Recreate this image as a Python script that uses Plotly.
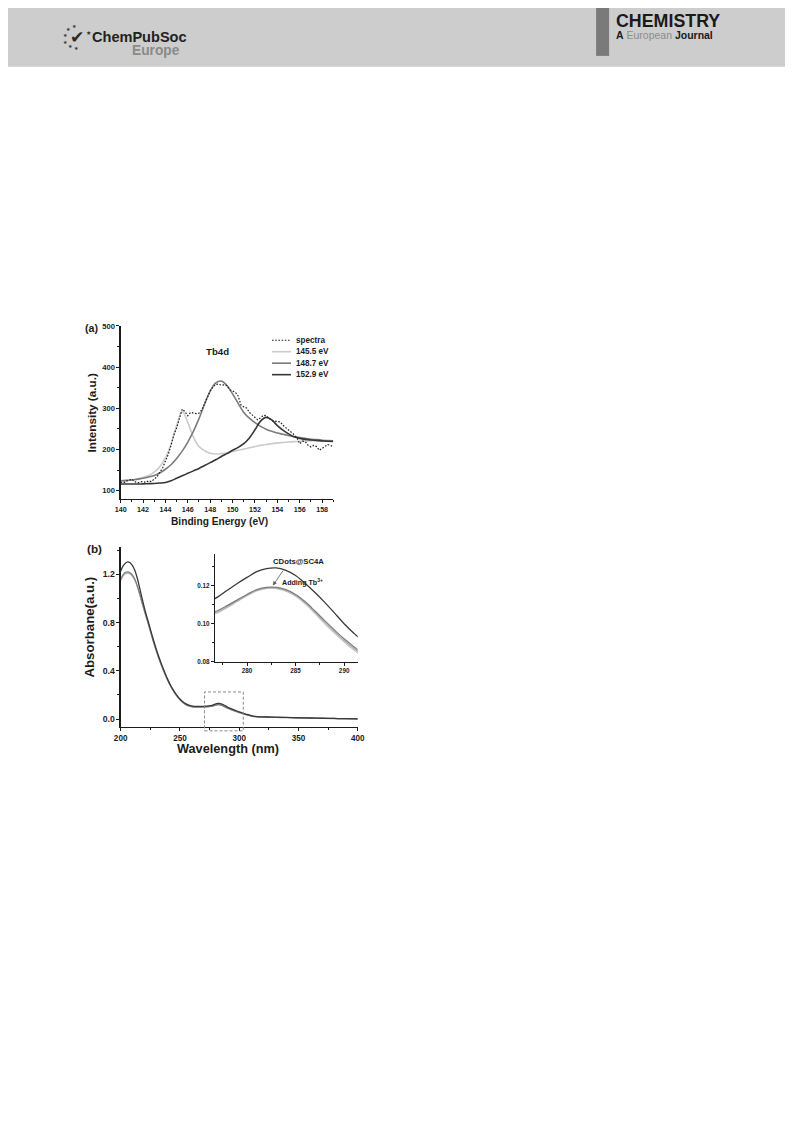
import math
import plotly.graph_objects as go

# ---------------- (a) Tb4d XPS data ----------------
be = [140, 140.5, 141, 141.5, 142, 142.5, 143, 143.5, 144, 144.5,
      145, 145.5, 146, 146.5, 147, 147.5, 148, 148.5, 149, 149.5,
      150, 150.5, 151, 151.5, 152, 152.5, 153, 153.5, 154, 154.5,
      155, 155.5, 156, 156.5, 157, 157.5, 158, 158.5, 159]
fit_1455 = [123, 124, 126, 128, 132, 137, 145, 158, 180, 212,
            258, 293, 266, 230, 207, 197, 191, 189, 190, 192,
            195, 198, 201, 204, 207, 210, 212, 214, 216, 217,
            218, 219, 220, 220.5, 221, 221, 221, 221, 221]
fit_1487 = [124, 125, 126, 128, 130, 133, 137, 143, 152, 163,
            178, 196, 218, 244, 275, 310, 342, 362, 366, 355,
            335, 312, 290, 276, 265, 256, 249, 244, 240, 237,
            234, 231, 229, 227, 225, 224, 222.5, 221.5, 221]
fit_1529 = [116, 116, 116, 116, 116.5, 117, 117.5, 118.5, 120, 124,
            130, 136, 142, 148, 154, 161, 168, 175, 183, 190,
            198, 205, 214, 228, 248, 269, 278, 272, 258, 247,
            238, 231, 227, 224.5, 223, 222, 221, 220, 219.5]
be_spec = [140.0, 140.25, 140.5, 140.75, 141.0, 141.25, 141.5, 141.75,
           142.0, 142.25, 142.5, 142.75, 143.0, 143.25, 143.5, 143.75,
           144.0, 144.25, 144.5, 144.75, 145.0, 145.25, 145.5, 145.75,
           146.0, 146.25, 146.5, 146.75, 147.0, 147.25, 147.5, 147.75,
           148.0, 148.25, 148.5, 148.75, 149.0, 149.25, 149.5, 149.75,
           150.0, 150.25, 150.5, 150.75, 151.0, 151.25, 151.5, 151.75,
           152.0, 152.25, 152.5, 152.75, 153.0, 153.25, 153.5, 153.75,
           154.0, 154.25, 154.5, 154.75, 155.0, 155.25, 155.5, 155.75,
           156.0, 156.25, 156.5, 156.75, 157.0, 157.25, 157.5, 157.75,
           158.0, 158.25, 158.5, 158.75, 159.0]
spectra = [121, 119, 123, 126, 128, 122, 119, 121,
           122, 120, 124, 122, 128, 134, 145, 155,
           172, 188, 210, 235, 252, 275, 298, 292,
           282, 290, 289, 287, 288, 296, 312, 328,
           342, 352, 358, 359, 356, 357, 355, 345,
           341, 339, 330, 308, 303, 301, 290, 284,
           276, 272, 277, 283, 282, 276, 270, 269,
           268, 267, 259, 253, 247, 243, 236, 228,
           214, 220, 219, 210, 206, 210, 207, 198,
           203, 209, 212, 210, 206]
legend_a = ["spectra", "145.5 eV", "148.7 eV", "152.9 eV"]
xt_a = [140, 142, 144, 146, 148, 150, 152, 154, 156, 158]
yt_a = [100, 200, 300, 400, 500]

# ---------------- (b) UV-vis data ----------------
wl = [200, 202, 204, 206, 208, 210, 212, 214, 216, 218,
      220, 222, 224, 226, 228, 230, 232, 234, 236, 238,
      240, 242, 244, 246, 248, 250, 252, 254, 256, 258,
      260, 262, 264, 266, 268, 270, 272, 274, 276,
      277, 278, 279, 280, 281, 282, 283, 284, 285, 286,
      287, 288, 289, 290, 291, 292,
      294, 296, 298, 300, 302, 304, 306, 308, 310, 312,
      315, 320, 325, 330, 340, 350, 360, 370, 380, 390, 400]
abs_cdots = [1.225, 1.268, 1.293, 1.303, 1.296, 1.272, 1.232, 1.170, 1.090, 1.005,
             0.925, 0.852, 0.783, 0.713, 0.645, 0.582, 0.523, 0.468, 0.417, 0.368,
             0.323, 0.283, 0.248, 0.217, 0.190, 0.167, 0.148, 0.133, 0.122, 0.114,
             0.109, 0.106, 0.105, 0.105, 0.105, 0.106, 0.107, 0.109, 0.1115,
             0.1142, 0.1178, 0.1213, 0.1245, 0.1275, 0.1291, 0.1295, 0.1282, 0.1255, 0.1213,
             0.1165, 0.1113, 0.1057, 0.1000, 0.0950, 0.0905,
             0.083, 0.075, 0.067, 0.060, 0.053, 0.046, 0.040, 0.034, 0.029, 0.025,
             0.021, 0.018, 0.017, 0.016, 0.014, 0.011, 0.009, 0.007, 0.005, 0.003, 0.002]
abs_tb1 = [1.160, 1.197, 1.217, 1.222, 1.214, 1.193, 1.160, 1.108, 1.042, 0.970,
           0.902, 0.836, 0.770, 0.700, 0.633, 0.571, 0.513, 0.459, 0.409, 0.361,
           0.317, 0.278, 0.243, 0.212, 0.185, 0.162, 0.143, 0.128, 0.116, 0.108,
           0.103, 0.100, 0.099, 0.099, 0.100, 0.101, 0.102, 0.104, 0.1055,
           0.1070, 0.1097, 0.1126, 0.1155, 0.1180, 0.1192, 0.1192, 0.1180, 0.1155, 0.1116,
           0.1067, 0.1016, 0.0967, 0.0920, 0.0878, 0.0838,
           0.076, 0.069, 0.062, 0.055, 0.049, 0.043, 0.037, 0.032, 0.027, 0.023,
           0.020, 0.017, 0.016, 0.015, 0.013, 0.011, 0.009, 0.007, 0.005, 0.003, 0.002]
abs_tb2 = [1.152, 1.190, 1.210, 1.215, 1.207, 1.187, 1.154, 1.103, 1.038, 0.967,
           0.899, 0.833, 0.767, 0.698, 0.631, 0.569, 0.511, 0.457, 0.407, 0.360,
           0.316, 0.277, 0.242, 0.211, 0.184, 0.161, 0.142, 0.127, 0.115, 0.107,
           0.102, 0.099, 0.098, 0.098, 0.099, 0.100, 0.101, 0.103, 0.1048,
           0.1063, 0.1091, 0.1121, 0.1151, 0.1176, 0.1189, 0.1189, 0.1176, 0.1150, 0.1110,
           0.1060, 0.1008, 0.0958, 0.0911, 0.0869, 0.0829,
           0.075, 0.068, 0.061, 0.054, 0.048, 0.042, 0.036, 0.031, 0.026, 0.022,
           0.019, 0.016, 0.015, 0.014, 0.012, 0.010, 0.008, 0.006, 0.004, 0.003, 0.002]
abs_tb3 = [1.145, 1.183, 1.203, 1.208, 1.201, 1.181, 1.149, 1.099, 1.034, 0.964,
           0.896, 0.830, 0.765, 0.696, 0.629, 0.567, 0.509, 0.455, 0.405, 0.358,
           0.314, 0.275, 0.240, 0.209, 0.182, 0.160, 0.141, 0.126, 0.114, 0.106,
           0.101, 0.098, 0.097, 0.097, 0.098, 0.099, 0.100, 0.102, 0.1042,
           0.1058, 0.1086, 0.1117, 0.1148, 0.1173, 0.1186, 0.1186, 0.1172, 0.1145, 0.1104,
           0.1053, 0.1000, 0.0950, 0.0903, 0.0861, 0.0821,
           0.074, 0.067, 0.060, 0.053, 0.047, 0.041, 0.035, 0.030, 0.025, 0.021,
           0.018, 0.015, 0.014, 0.013, 0.011, 0.009, 0.007, 0.005, 0.004, 0.002, 0.001]
xt_b = [200, 250, 300, 350, 400]
yt_b = [0.0, 0.4, 0.8, 1.2]
xt_in = [280, 285, 290]
yt_in = [0.08, 0.10, 0.12]

# ---------------- page geometry ----------------
# Figure fills the 793x1121 page. Positions below are given in the pixels of the
# final picture; the photographed picture maps page x -> 7.1 + 0.982x and
# page y -> 4 + 0.996y, so that mapping is undone here.
PW, PH = 793, 1121
AX, BX = 7.1, 0.982
AY, BY = 4.0, 0.996
def X(px):
    return min(max(((px - AX) / BX) / PW, 0), 1)
def Y(py):
    return min(max(1 - ((py - AY) / BY) / PH, 0), 1)
def fs(s):
    return round(s / BX, 2)

FONT = "Liberation Sans"
INK = "#1c1c1c"
SPEC_DASH = "1.6px,1.6px"

fig = go.Figure()

# (a) traces
fig.add_trace(go.Scatter(x=be, y=fit_1455, mode="lines", name=legend_a[1],
                         line=dict(color="#cbcbcb", width=1.6, shape="spline"),
                         xaxis="x", yaxis="y", showlegend=False))
fig.add_trace(go.Scatter(x=be, y=fit_1487, mode="lines", name=legend_a[2],
                         line=dict(color="#7c7c7c", width=1.6, shape="spline"),
                         xaxis="x", yaxis="y", showlegend=False))
fig.add_trace(go.Scatter(x=be, y=fit_1529, mode="lines", name=legend_a[3],
                         line=dict(color="#363636", width=1.6, shape="spline"),
                         xaxis="x", yaxis="y", showlegend=False))
fig.add_trace(go.Scatter(x=be_spec, y=spectra, mode="lines", name=legend_a[0],
                         line=dict(color="#222222", width=1.2, dash=SPEC_DASH),
                         xaxis="x", yaxis="y", showlegend=False))

# (b) traces: main + inset
for ax, ay in (("x2", "y2"), ("x3", "y3")):
    fig.add_trace(go.Scatter(x=wl, y=abs_tb3, mode="lines", line=dict(color="#cacaca", width=1.2, shape="spline"),
                             xaxis=ax, yaxis=ay, showlegend=False))
    fig.add_trace(go.Scatter(x=wl, y=abs_tb2, mode="lines", line=dict(color="#aaaaaa", width=1.2, shape="spline"),
                             xaxis=ax, yaxis=ay, showlegend=False))
    fig.add_trace(go.Scatter(x=wl, y=abs_tb1, mode="lines", line=dict(color="#7e7e7e", width=1.2, shape="spline"),
                             xaxis=ax, yaxis=ay, showlegend=False))
    fig.add_trace(go.Scatter(x=wl, y=abs_cdots, mode="lines", line=dict(color="#3a3a3a", width=1.3, shape="spline"),
                             xaxis=ax, yaxis=ay, showlegend=False))

def axis(**kw):
    base = dict(showline=True, linecolor=INK, linewidth=1.2, ticks="outside", ticklen=3,
                tickwidth=1, tickcolor=INK, showgrid=False, zeroline=False, mirror=False,
                fixedrange=True)
    base.update(kw)
    return base

def minor(dtick, tick0, ln=2):
    return dict(dtick=dtick, tick0=tick0, ticks="outside", ticklen=ln, tickwidth=1,
                tickcolor=INK, showgrid=False)

def tf(size):
    return dict(family=FONT, size=fs(size), color=INK, weight="bold")

# inset axes limits (kept here because the arrow below is drawn in the same units)
IN_X = [276.7, 291.4]
IN_Y = [0.08, 0.137]
IN_PX = [215, 357.7]
IN_PY = [555, 663]

fig.update_layout(
    autosize=True, margin=dict(l=0, r=0, t=0, b=0, pad=0),
    paper_bgcolor="white", plot_bgcolor="rgba(0,0,0,0)",
    font=dict(family=FONT, color=INK),
    xaxis=axis(domain=[X(120.7), X(333.3)], anchor="y", range=[140, 159],
               tickvals=xt_a, minor=minor(1, 140), tickfont=tf(7)),
    yaxis=axis(domain=[Y(500), Y(326.7)], anchor="x", range=[80, 500],
               tickvals=yt_a, minor=minor(50, 100), tickfont=tf(7.5)),
    xaxis2=axis(domain=[X(120.7), X(357.7)], anchor="y2", range=[200, 400],
                tickvals=xt_b, minor=minor(25, 200), tickfont=tf(8)),
    yaxis2=axis(domain=[Y(728.5), Y(548)], anchor="x2", range=[-0.0646, 1.429],
                tickvals=yt_b, tickformat=".1f", minor=minor(0.2, 0), tickfont=tf(8.5)),
    xaxis3=axis(domain=[X(IN_PX[0]), X(IN_PX[1])], anchor="y3", range=IN_X,
                tickvals=xt_in, minor=minor(2.5, 277.5), linewidth=1.1, tickfont=tf(6.2)),
    yaxis3=axis(domain=[Y(IN_PY[1]), Y(IN_PY[0])], anchor="x3", range=IN_Y,
                tickvals=yt_in, tickformat=".2f", minor=minor(0.01, 0.08), linewidth=1.1,
                tickfont=tf(6.2)),
)

shapes = []
# header band and bar
shapes.append(dict(type="rect", xref="paper", yref="paper", x0=0, x1=1, y0=Y(67), y1=1,
                   fillcolor="#cdcdcd", line=dict(width=0), layer="below"))
shapes.append(dict(type="rect", xref="paper", yref="paper", x0=X(596), x1=X(609), y0=Y(56), y1=1,
                   fillcolor="#7a7a7a", line=dict(width=0), layer="below"))
# dashed box marking the inset region
shapes.append(dict(type="rect", xref="paper", yref="paper", x0=X(204.5), x1=X(243.3),
                   y0=Y(732.5), y1=Y(693.5), line=dict(color="#8a8a8a", width=1, dash="3px,2px"),
                   fillcolor="rgba(0,0,0,0)"))
# legend samples for (a)
leg_rows = [341, 352.5, 364, 375.5]
leg_styles = [dict(color="#222222", width=1.2, dash=SPEC_DASH),
              dict(color="#cbcbcb", width=1.6),
              dict(color="#7c7c7c", width=1.6),
              dict(color="#363636", width=1.6)]
for r, st in zip(leg_rows, leg_styles):
    shapes.append(dict(type="line", xref="paper", yref="paper", x0=X(272), x1=X(291),
                       y0=Y(r), y1=Y(r), line=st))

# arrow in the inset: from the CDots curve down to the Tb-added curves
tail = (283.7, 0.128)
tip = (282.7, 0.1205)
sx = (IN_PX[1] - IN_PX[0]) / (IN_X[1] - IN_X[0])   # px per nm
sy = (IN_PY[1] - IN_PY[0]) / (IN_Y[1] - IN_Y[0])   # px per absorbance unit
dxp, dyp = (tip[0] - tail[0]) * sx, (tip[1] - tail[1]) * sy
L = math.hypot(dxp, dyp)
ux, uy = dxp / L, dyp / L
hl, hw = 3.2, 1.6
bx, by = -hl * ux, -hl * uy
c1 = (tip[0] + (bx - hw * uy) / sx, tip[1] + (by + hw * ux) / sy)
c2 = (tip[0] + (bx + hw * uy) / sx, tip[1] + (by - hw * ux) / sy)
shapes.append(dict(type="line", xref="x3", yref="y3", x0=tail[0], y0=tail[1], x1=tip[0], y1=tip[1],
                   line=dict(color="#555555", width=0.8)))
shapes.append(dict(type="path", xref="x3", yref="y3",
                   path=f"M {tip[0]} {tip[1]} L {c1[0]} {c1[1]} L {c2[0]} {c2[1]} Z",
                   fillcolor="#555555", line=dict(color="#555555", width=0.5)))

ann = []
def txt(t, px, py, size, xanchor="center", color=INK, bold=True, angle=0, yanchor="middle"):
    ann.append(dict(text=t, x=X(px), y=Y(py), xref="paper", yref="paper", showarrow=False,
                    xanchor=xanchor, yanchor=yanchor, textangle=angle,
                    font=dict(family=FONT, size=fs(size), color=color,
                              weight="bold" if bold else "normal")))

for r, lab in zip(leg_rows, legend_a):
    txt(lab, 293.5, r, 8, xanchor="left")

txt("(a)", 92, 329, 10.5)
txt("Tb4d", 217.5, 352, 9.5)
txt("Binding Energy (eV)", 220, 523, 10)
txt("Intensity (a.u.)", 91.5, 414, 11.5, angle=-90)

txt("(b)", 95, 550, 11.5)
txt("Wavelength (nm)", 228, 750, 12.5)
txt("Absorbane(a.u.)", 90, 628, 13, angle=-90)
txt("CDots@SC4A", 298.5, 563, 7.6)
txt("Adding Tb<sup>3+</sup>", 302.5, 583, 7)

# header texts
txt("ChemPubSoc", 90, 37, 14.3, xanchor="left", color="#222222")
txt("Europe", 182.5, 51, 13.5, xanchor="right", color="#8a8a8a")
txt("CHEMISTRY", 614, 21.5, 17.5, xanchor="left", color="#1a1a1a")
ann.append(dict(text="<b>A</b> <span style='color:#8c8c8c'>European</span> <b>Journal</b>",
                x=X(614), y=Y(35.5), xref="paper", yref="paper", showarrow=False,
                xanchor="left", yanchor="middle",
                font=dict(family=FONT, size=fs(10.3), color="#1a1a1a")))
# ChemPubSoc emblem: check mark inside a ring of stars
txt("\u2714", 77, 37, 17, color="#2a2a2a", bold=False)
for ang in (100, 135, 170, 205, 240, 275):
    a = math.radians(ang)
    txt("\u2605", 76 + 11 * math.cos(a), 37 - 11 * math.sin(a), 5, color="#333333", bold=False)
txt("\u2605", 89, 33, 6, color="#333333", bold=False)

fig.update_layout(shapes=shapes, annotations=ann)

# The page body keeps an 8px default margin; a negative margin on the plot div cancels it,
# so the autosized figure covers the full 793x1121 window.
fig.write_html("out.html", config={"displayModeBar": False, "staticPlot": True},
               default_width="793px; margin:-8px", default_height="1121px")
